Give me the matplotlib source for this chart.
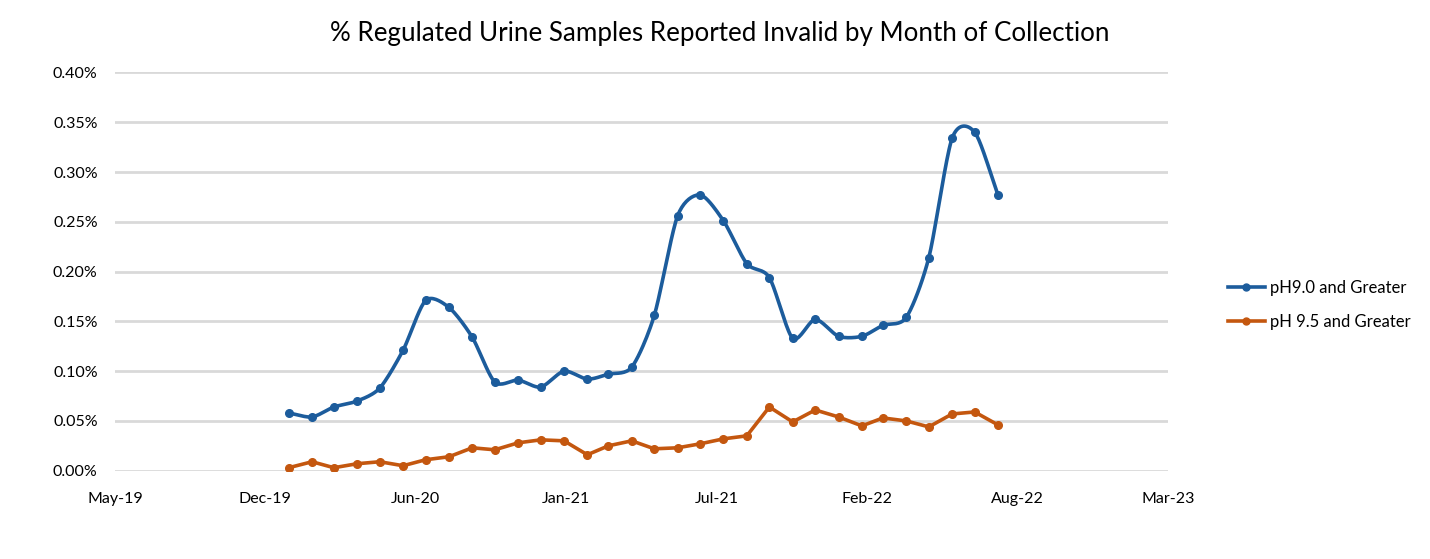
import numpy as np
import pandas as pd
import matplotlib
matplotlib.use("Agg")
import matplotlib.pyplot as plt
import matplotlib.dates as mdates
from matplotlib.ticker import FuncFormatter, MultipleLocator

# ---- data (percent values, monthly Jan 2020 - Aug 2022) ----
months = pd.date_range("2020-01-01", "2022-08-01", freq="MS")
ph90 = [0.058, 0.054, 0.064, 0.070, 0.083, 0.121, 0.171, 0.164, 0.134, 0.089,
        0.091, 0.084, 0.100, 0.092, 0.097, 0.104, 0.156, 0.256, 0.277, 0.251,
        0.208, 0.194, 0.133, 0.152, 0.135, 0.135, 0.146, 0.154, 0.214, 0.334,
        0.340, 0.277]
ph95 = [0.003, 0.009, 0.003, 0.007, 0.009, 0.005, 0.011, 0.014, 0.023, 0.021,
        0.028, 0.031, 0.030, 0.016, 0.025, 0.030, 0.022, 0.023, 0.027, 0.032,
        0.035, 0.064, 0.049, 0.061, 0.054, 0.045, 0.053, 0.050, 0.044, 0.057,
        0.059, 0.046]
series_names = ["pH9.0 and Greater", "pH 9.5 and Greater"]
title = "% Regulated Urine Samples Reported Invalid by Month of Collection"

BLUE = "#1c5c9c"
ORANGE = "#c4570f"
FONT = ["Lato", "DejaVu Sans"]
plt.rcParams["font.family"] = FONT


def smooth_curve(x, y, n=20, tension=0.8):
    """Smooth display curve through the data points (like Excel 'smoothed line')."""
    x = np.asarray(x, float)
    y = np.asarray(y, float)
    px = np.concatenate([[2 * x[0] - x[1]], x, [2 * x[-1] - x[-2]]])
    py = np.concatenate([[2 * y[0] - y[1]], y, [2 * y[-1] - y[-2]]])
    xs, ys = [], []
    t = np.linspace(0, 1, n, endpoint=False)
    h00 = 2 * t ** 3 - 3 * t ** 2 + 1
    h10 = t ** 3 - 2 * t ** 2 + t
    h01 = -2 * t ** 3 + 3 * t ** 2
    h11 = t ** 3 - t ** 2
    for i in range(1, len(px) - 2):
        for arr, out in ((px, xs), (py, ys)):
            p0, p1, p2, p3 = arr[i - 1], arr[i], arr[i + 1], arr[i + 2]
            m1 = tension * 0.5 * (p2 - p0)
            m2 = tension * 0.5 * (p3 - p1)
            out.extend(h00 * p1 + h10 * m1 + h01 * p2 + h11 * m2)
    xs.append(x[-1])
    ys.append(y[-1])
    return np.array(xs), np.array(ys)


fig = plt.figure(figsize=(14.30, 5.59), dpi=100)
ax = fig.add_axes([115 / 1430, 1 - 470.7 / 559, (1168 - 115) / 1430, (470.7 - 72.5) / 559])

xnum = mdates.date2num(months)
sx, sy = smooth_curve(xnum, ph90)
ax.plot(sx, sy, color=BLUE, lw=2.6, solid_capstyle="round", zorder=3)
ax.plot(xnum, ph90, ls="none", marker="o", ms=5.5, color=BLUE, zorder=4)
ax.plot(xnum, ph95, color=ORANGE, lw=2.6, marker="o", ms=5.5, zorder=3)

# legend proxies
h1, = ax.plot([], [], color=BLUE, lw=2.6, marker="o", ms=5)
h2, = ax.plot([], [], color=ORANGE, lw=2.6, marker="o", ms=5)
fig.legend([h1, h2], series_names, loc="center left",
           bbox_to_anchor=(1213 / 1430, 1 - 305 / 559), frameon=False,
           fontsize=12, handlelength=2.2, labelspacing=1.05, handletextpad=0.35)

xmin = mdates.date2num(pd.Timestamp("2019-05-15"))
ax.set_xlim(xmin, xmin + 1400)
ax.set_xticks(xmin + np.arange(0, 1401, 200))
ax.xaxis.set_major_formatter(mdates.DateFormatter("%b-%y"))
ax.set_ylim(0, 0.40)
ax.yaxis.set_major_locator(MultipleLocator(0.05))
ax.yaxis.set_major_formatter(FuncFormatter(lambda v, p: f"{v:.2f}%"))

ax.grid(axis="y", color="#d9d9d9", lw=2)
ax.set_axisbelow(True)
for s in ax.spines.values():
    s.set_visible(False)
ax.tick_params(axis="both", length=0, labelsize=11.5, colors="#000000")
ax.tick_params(axis="x", pad=15)
ax.tick_params(axis="y", pad=12.5)

fig.text(720 / 1430, 1 - 33 / 559, title, ha="center", va="center", fontsize=18.7)

fig.savefig("out.png", dpi=100)
